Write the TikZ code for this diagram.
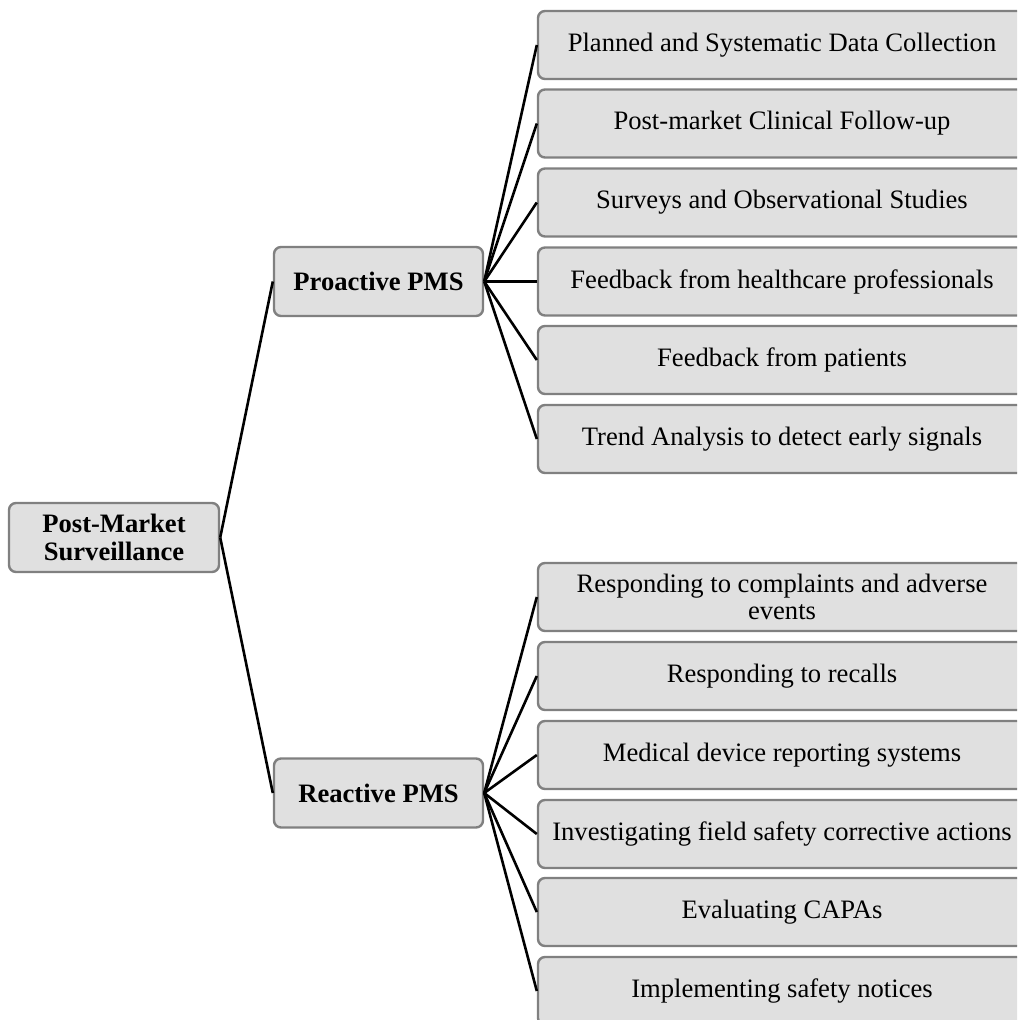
\documentclass[tikz,border=0pt]{standalone}
\usepackage{fontspec}
\setmainfont{Liberation Serif}
\begin{document}
\begin{tikzpicture}[x=0.5pt,y=-0.5pt,
  box/.style={draw=black!50, line width=1.2pt, fill=black!12, rounded corners=3.5pt,
    inner sep=0pt, align=center, font=\fontsize{13.3}{13.6}\selectfont},
  hub/.style={box, minimum width=104.5pt, minimum height=34.5pt, font=\fontsize{13.3}{13.6}\selectfont\bfseries},
  leaf/.style={box, minimum width=244pt, minimum height=34pt},
  link/.style={line width=1.3pt, black}]
\useasboundingbox (0,0) rectangle (1017,1020);
\clip (0,0) rectangle (1017,1020);

% root and the two branches
\node[hub, minimum width=105pt] (root) at (114,537.5) {Post-Market\\Surveillance};
\node[hub] (pro) at (378.5,281.5) {Proactive PMS};
\node[hub] (rea) at (378.5,793) {Reactive PMS};

% proactive activities
\node[leaf] (p1) at (782,45)    {Planned and Systematic Data Collection};
\node[leaf] (p2) at (782,123.5) {Post-market Clinical Follow-up};
\node[leaf] (p3) at (782,202.5) {Surveys and Observational Studies};
\node[leaf] (p4) at (782,281.5) {Feedback from healthcare professionals};
\node[leaf] (p5) at (782,360)   {Feedback from patients};
\node[leaf] (p6) at (782,439)   {Trend Analysis to detect early signals};

% reactive activities
\node[leaf] (r1) at (782,597)   {Responding to complaints and adverse\\events};
\node[leaf] (r2) at (782,676)   {Responding to recalls};
\node[leaf] (r3) at (782,755)   {Medical device reporting systems};
\node[leaf] (r4) at (782,834)   {Investigating field safety corrective actions};
\node[leaf] (r5) at (782,912)   {Evaluating CAPAs};
\node[leaf] (r6) at (782,991)   {Implementing safety notices};

% connectors
\draw[link] (root.east) -- (pro.west);
\draw[link] (root.east) -- (rea.west);
\foreach \n in {p1,p2,p3,p4,p5,p6} \draw[link] (pro.east) -- (\n.west);
\foreach \n in {r1,r2,r3,r4,r5,r6} \draw[link] (rea.east) -- (\n.west);
\end{tikzpicture}
\end{document}
